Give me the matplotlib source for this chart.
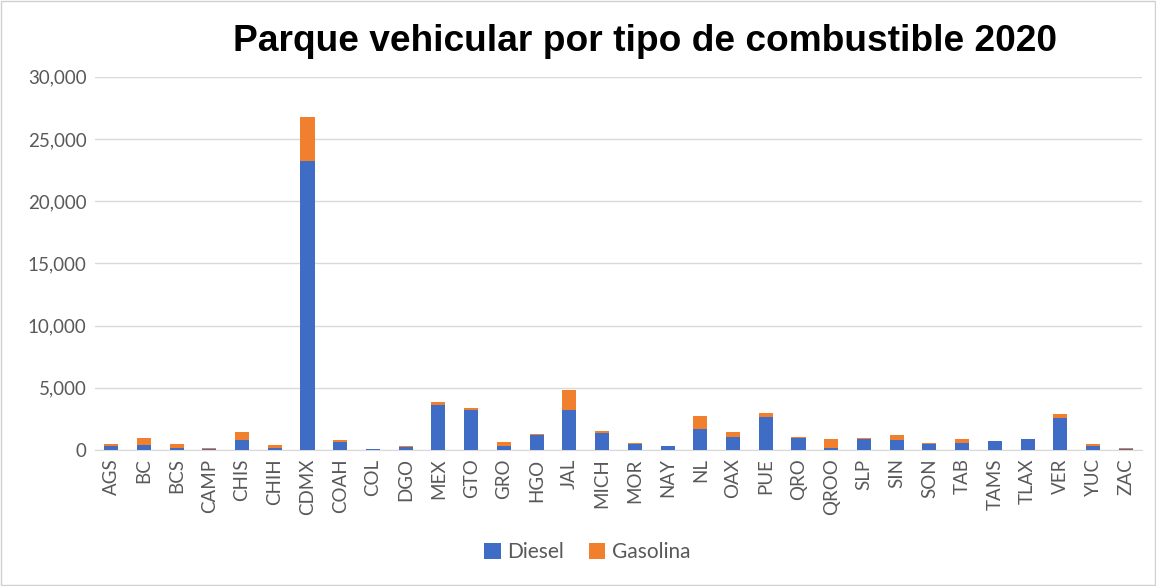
import numpy as np
import matplotlib.pyplot as plt
from matplotlib.patches import Rectangle
from matplotlib.ticker import FuncFormatter

# Estados y valores (lectura aproximada del grafico)
states = ['AGS', 'BC', 'BCS', 'CAMP', 'CHIS', 'CHIH', 'CDMX', 'COAH', 'COL', 'DGO',
          'MEX', 'GTO', 'GRO', 'HGO', 'JAL', 'MICH', 'MOR', 'NAY', 'NL', 'OAX',
          'PUE', 'QRO', 'QROO', 'SLP', 'SIN', 'SON', 'TAB', 'TAMS', 'TLAX', 'VER',
          'YUC', 'ZAC']
diesel = [330, 380, 160, 50, 830, 190, 23200, 670, 60, 240,
          3640, 3220, 320, 1180, 3240, 1370, 480, 300, 1690, 1050,
          2650, 970, 160, 880, 830, 510, 590, 700, 880, 2610,
          320, 80]
gasolina = [170, 590, 320, 110, 650, 190, 3600, 130, 10, 80,
            220, 160, 320, 110, 1590, 160, 80, 20, 1040, 400,
            320, 80, 720, 110, 380, 80, 290, 50, 10, 290,
            160, 80]

blue = '#3F6DC6'
orange = '#F07F2E'
grey = '#595959'

fig = plt.figure(figsize=(11.56, 5.86), dpi=100)
fig.patches.append(Rectangle((0.001, 0.001), 0.998, 0.998, transform=fig.transFigure,
                             fill=False, edgecolor='#D0D0D0', linewidth=1))
ax = fig.add_axes([0.082, 0.232, 0.906, 0.637])

x = np.arange(len(states))
ax.bar(x, diesel, width=0.43, color=blue, label='Diesel', zorder=3)
ax.bar(x, gasolina, width=0.43, bottom=diesel, color=orange, label='Gasolina', zorder=3)

ax.set_xlim(-0.5, len(states) - 0.5)
ax.set_ylim(0, 30000)
ax.set_yticks(np.arange(0, 30001, 5000))
ax.yaxis.set_major_formatter(FuncFormatter(lambda v, p: f'{int(v):,}'))
ax.set_xticks(x)
ax.set_xticklabels(states, rotation=90)
ax.grid(axis='y', color='#D9D9D9', linewidth=1, zorder=0)
for s in ['top', 'right', 'left']:
    ax.spines[s].set_visible(False)
ax.spines['bottom'].set_color('#D9D9D9')
ax.tick_params(axis='both', length=0, labelsize=13.5, colors=grey, pad=6)
for t in ax.get_xticklabels() + ax.get_yticklabels():
    t.set_family('Lato')

fig.text(0.558, 0.93, 'Parque vehicular por tipo de combustible 2020', ha='center',
         va='center', fontsize=26.7, fontweight='bold', family='Liberation Sans')

leg = ax.legend(loc='center', bbox_to_anchor=(0.47, -0.274), ncol=2, frameon=False,
                handlelength=0.8, handleheight=0.8, handletextpad=0.3, columnspacing=1.2,
                prop={'family': 'Lato', 'size': 15})
for t in leg.get_texts():
    t.set_color(grey)

fig.savefig('out.png', dpi=100)
